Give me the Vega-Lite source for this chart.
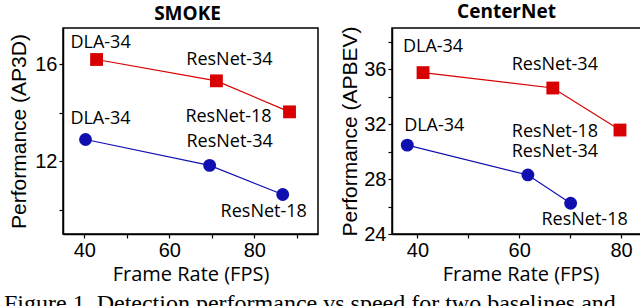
{
  "$schema": "https://vega.github.io/schema/vega-lite/v6.json",
  "background": "white",
  "padding": {"left": 4, "top": 2, "right": 0, "bottom": 0},
  "spacing": 20,
  "config": {
    "view": {"stroke": "#000", "strokeWidth": 1.5},
    "axis": {"grid": false, "domainColor": "#000", "domainWidth": 1.5, "tickColor": "#000", "tickSize": 4, "tickWidth": 1.2, "labelFont": "Liberation Sans", "labelFontSize": 20, "labelColor": "#000", "labelPadding": 2, "titleFont": "Open Sans", "titleFontSize": 20, "titleFontWeight": "normal", "titleColor": "#000"},
    "title": {"font": "Open Sans", "fontSize": 19, "fontWeight": "bold", "color": "#000", "offset": 4}
  },
  "title": {"text": "Figure 1. Detection performance vs speed for two baselines and", "orient": "bottom", "anchor": "start", "font": "Liberation Serif", "fontSize": 24, "fontWeight": "normal", "offset": 7, "dx": -4},
  "datasets": {
    "smoke": [
      {"backbone": "DLA-34", "series": "proposed", "fps": 42.9, "ap": 16.2},
      {"backbone": "ResNet-34", "series": "proposed", "fps": 71.1, "ap": 15.32},
      {"backbone": "ResNet-18", "series": "proposed", "fps": 88.3, "ap": 14.04},
      {"backbone": "DLA-34", "series": "baseline", "fps": 40.3, "ap": 12.9},
      {"backbone": "ResNet-34", "series": "baseline", "fps": 69.5, "ap": 11.83},
      {"backbone": "ResNet-18", "series": "baseline", "fps": 86.7, "ap": 10.63}
    ],
    "centernet": [
      {"backbone": "DLA-34", "series": "proposed", "fps": 41.1, "ap": 35.75},
      {"backbone": "ResNet-34", "series": "proposed", "fps": 66.6, "ap": 34.63},
      {"backbone": "ResNet-18", "series": "proposed", "fps": 79.8, "ap": 31.57},
      {"backbone": "DLA-34", "series": "baseline", "fps": 38.0, "ap": 30.47},
      {"backbone": "ResNet-34", "series": "baseline", "fps": 61.7, "ap": 28.3},
      {"backbone": "ResNet-18", "series": "baseline", "fps": 70.1, "ap": 26.24}
    ]
  },
  "hconcat": [
    {
      "title": {"text": "SMOKE", "dx": -3},
      "width": 255,
      "height": 206,
      "data": {"name": "smoke"},
      "encoding": {
        "x": {"field": "fps", "type": "quantitative", "scale": {"domain": [35, 95], "nice": false, "zero": false}, "axis": {"title": "Frame Rate (FPS)", "values": [40, 50, 60, 70, 80, 90], "labelExpr": "datum.value % 20 == 0 ? datum.label : ''", "titlePadding": 4}},
        "y": {"field": "ap", "type": "quantitative", "scale": {"domain": [9, 17.5], "nice": false, "zero": false}, "axis": {"title": "Performance (AP3D)", "titleFont": "Liberation Sans", "titleFontSize": 21, "values": [10, 12, 14, 16], "labelExpr": "datum.value % 4 == 0 ? datum.label : ''", "titlePadding": 5}}
      },
      "layer": [
        {"mark": {"type": "line", "strokeWidth": 1.2}, "encoding": {"color": {"field": "series", "type": "nominal", "scale": {"domain": ["proposed", "baseline"], "range": ["#d80000", "#1010b0"]}, "legend": null}}},
        {"mark": {"type": "point", "filled": true, "opacity": 1, "size": 165}, "encoding": {"color": {"field": "series", "type": "nominal", "legend": null}, "shape": {"field": "series", "type": "nominal", "scale": {"domain": ["proposed", "baseline"], "range": ["square", "circle"]}, "legend": null}}},
        {"transform": [{"filter": "datum.series == 'proposed' && datum.backbone == 'DLA-34'"}], "mark": {"type": "text", "font": "Open Sans", "fontSize": 18, "color": "#000", "dx": 4, "dy": -17}, "encoding": {"text": {"field": "backbone"}}},
        {"transform": [{"filter": "datum.series == 'proposed' && datum.backbone == 'ResNet-34'"}], "mark": {"type": "text", "font": "Open Sans", "fontSize": 18, "color": "#000", "dx": 13, "dy": -21}, "encoding": {"text": {"field": "backbone"}}},
        {"transform": [{"filter": "datum.series == 'proposed' && datum.backbone == 'ResNet-18'"}], "mark": {"type": "text", "font": "Open Sans", "fontSize": 18, "color": "#000", "dx": -61, "dy": 5}, "encoding": {"text": {"field": "backbone"}}},
        {"transform": [{"filter": "datum.series == 'baseline' && datum.backbone == 'DLA-34'"}], "mark": {"type": "text", "font": "Open Sans", "fontSize": 18, "color": "#000", "dx": 15, "dy": -20}, "encoding": {"text": {"field": "backbone"}}},
        {"transform": [{"filter": "datum.series == 'baseline' && datum.backbone == 'ResNet-34'"}], "mark": {"type": "text", "font": "Open Sans", "fontSize": 18, "color": "#000", "dx": 20, "dy": -23}, "encoding": {"text": {"field": "backbone"}}},
        {"transform": [{"filter": "datum.series == 'baseline' && datum.backbone == 'ResNet-18'"}], "mark": {"type": "text", "font": "Open Sans", "fontSize": 18, "color": "#000", "dx": -19, "dy": 18}, "encoding": {"text": {"field": "backbone"}}}
      ]
    },
    {
      "title": {"text": "CenterNet", "dx": -14},
      "width": 257,
      "height": 206,
      "data": {"name": "centernet"},
      "encoding": {
        "x": {"field": "fps", "type": "quantitative", "scale": {"domain": [35, 85.5], "nice": false, "zero": false}, "axis": {"title": "Frame Rate (FPS)", "values": [40, 50, 60, 70, 80], "labelExpr": "datum.value % 20 == 0 ? datum.label : ''", "titlePadding": 4}},
        "y": {"field": "ap", "type": "quantitative", "scale": {"domain": [24, 39], "nice": false, "zero": false}, "axis": {"title": "Performance (APBEV)", "titleFont": "Liberation Sans", "titleFontSize": 21, "values": [24, 26, 28, 30, 32, 34, 36, 38], "labelExpr": "datum.value % 4 == 0 ? datum.label : ''", "titlePadding": 3}}
      },
      "layer": [
        {"mark": {"type": "line", "strokeWidth": 1.2}, "encoding": {"color": {"field": "series", "type": "nominal", "scale": {"domain": ["proposed", "baseline"], "range": ["#d80000", "#1010b0"]}, "legend": null}}},
        {"mark": {"type": "point", "filled": true, "opacity": 1, "size": 165}, "encoding": {"color": {"field": "series", "type": "nominal", "legend": null}, "shape": {"field": "series", "type": "nominal", "scale": {"domain": ["proposed", "baseline"], "range": ["square", "circle"]}, "legend": null}}},
        {"transform": [{"filter": "datum.series == 'proposed' && datum.backbone == 'DLA-34'"}], "mark": {"type": "text", "font": "Open Sans", "fontSize": 18, "color": "#000", "dx": 10, "dy": -26}, "encoding": {"text": {"field": "backbone"}}},
        {"transform": [{"filter": "datum.series == 'proposed' && datum.backbone == 'ResNet-34'"}], "mark": {"type": "text", "font": "Open Sans", "fontSize": 18, "color": "#000", "dx": 2, "dy": -23}, "encoding": {"text": {"field": "backbone"}}},
        {"transform": [{"filter": "datum.series == 'proposed' && datum.backbone == 'ResNet-18'"}], "mark": {"type": "text", "font": "Open Sans", "fontSize": 18, "color": "#000", "dx": -65, "dy": 2}, "encoding": {"text": {"field": "backbone"}}},
        {"transform": [{"filter": "datum.series == 'baseline' && datum.backbone == 'DLA-34'"}], "mark": {"type": "text", "font": "Open Sans", "fontSize": 18, "color": "#000", "dx": 27, "dy": -19}, "encoding": {"text": {"field": "backbone"}}},
        {"transform": [{"filter": "datum.series == 'baseline' && datum.backbone == 'ResNet-34'"}], "mark": {"type": "text", "font": "Open Sans", "fontSize": 18, "color": "#000", "dx": 27, "dy": -23}, "encoding": {"text": {"field": "backbone"}}},
        {"transform": [{"filter": "datum.series == 'baseline' && datum.backbone == 'ResNet-18'"}], "mark": {"type": "text", "font": "Open Sans", "fontSize": 18, "color": "#000", "dx": 14, "dy": 17}, "encoding": {"text": {"field": "backbone"}}}
      ]
    }
  ]
}
